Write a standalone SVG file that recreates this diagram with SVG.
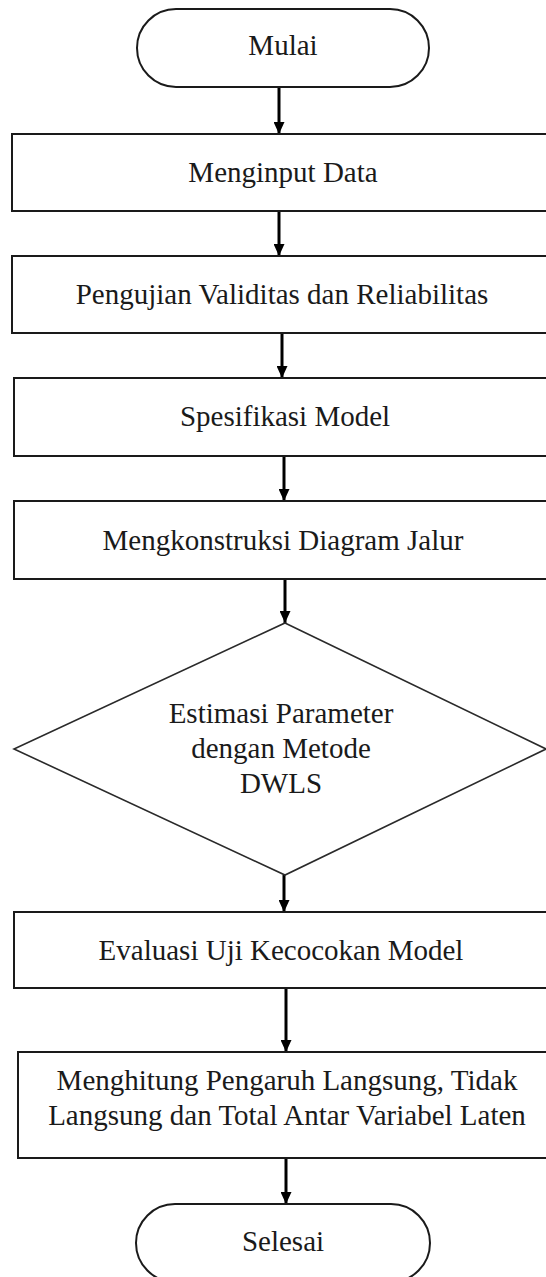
<svg xmlns="http://www.w3.org/2000/svg" width="546" height="1277" viewBox="0 0 546 1277">
<style>
.box{fill:#fff;stroke:#1a1a1a;stroke-width:2}
.dia{fill:#fff;stroke:#2a2a2a;stroke-width:1.6}
.t{font-family:'Liberation Serif','Times New Roman',Tinos,'DejaVu Serif',serif;font-size:29px;fill:#1a1a1a;text-anchor:middle}
.c{stroke:#000;stroke-width:3;fill:none;marker-end:url(#ah)}
</style>
<defs>
<marker id="ah" markerWidth="12" markerHeight="11" refX="12" refY="5.5" orient="auto" markerUnits="userSpaceOnUse" viewBox="0 0 12 11">
<path d="M0,0 L12,5.5 L0,11 Z" fill="#000"/>
</marker>
</defs>
<rect width="546" height="1277" fill="#fff"/>
<g id="connectors">
<line class="c" x1="279" y1="87" x2="279" y2="134"/>
<line class="c" x1="279" y1="211" x2="279" y2="256"/>
<line class="c" x1="282" y1="333" x2="282" y2="378"/>
<line class="c" x1="284" y1="456" x2="284" y2="501"/>
<line class="c" x1="285" y1="579" x2="285" y2="623"/>
<line class="c" x1="284" y1="875" x2="284" y2="912"/>
<line class="c" x1="286" y1="988" x2="286" y2="1052"/>
<line class="c" x1="286" y1="1158" x2="286" y2="1204"/>
</g>
<g id="mulai">
<rect class="box" x="137" y="9" width="292" height="78" rx="39" ry="39"/>
<text class="t" font-family="Liberation Serif, serif" x="283" y="55">Mulai</text>
</g>
<g id="menginput">
<rect class="box" x="12" y="134" width="550" height="77"/>
<text class="t" font-family="Liberation Serif, serif" x="283" y="182">Menginput Data</text>
</g>
<g id="pengujian">
<rect class="box" x="12" y="256" width="550" height="77"/>
<text class="t" font-family="Liberation Serif, serif" x="282" y="304">Pengujian Validitas dan Reliabilitas</text>
</g>
<g id="spesifikasi">
<rect class="box" x="14" y="378" width="550" height="78"/>
<text class="t" font-family="Liberation Serif, serif" x="285" y="426">Spesifikasi Model</text>
</g>
<g id="konstruksi">
<rect class="box" x="14" y="501" width="550" height="78"/>
<text class="t" font-family="Liberation Serif, serif" x="283" y="550">Mengkonstruksi Diagram Jalur</text>
</g>
<g id="estimasi">
<polygon class="dia" points="285,623 546,749 285,875 14,749"/>
<text class="t" font-family="Liberation Serif, serif" x="281" y="723">Estimasi Parameter</text>
<text class="t" font-family="Liberation Serif, serif" x="281" y="758">dengan Metode</text>
<text class="t" font-family="Liberation Serif, serif" x="281" y="793">DWLS</text>
</g>
<g id="evaluasi">
<rect class="box" x="14" y="912" width="550" height="76"/>
<text class="t" font-family="Liberation Serif, serif" x="281" y="960">Evaluasi Uji Kecocokan Model</text>
</g>
<g id="menghitung">
<rect class="box" x="18" y="1052" width="550" height="106"/>
<text class="t" font-family="Liberation Serif, serif" x="287" y="1090">Menghitung Pengaruh Langsung, Tidak</text>
<text class="t" font-family="Liberation Serif, serif" x="287" y="1125">Langsung dan Total Antar Variabel Laten</text>
</g>
<g id="selesai">
<rect class="box" x="136" y="1204" width="294" height="78" rx="39" ry="39"/>
<text class="t" font-family="Liberation Serif, serif" x="283" y="1251">Selesai</text>
</g>
</svg>
